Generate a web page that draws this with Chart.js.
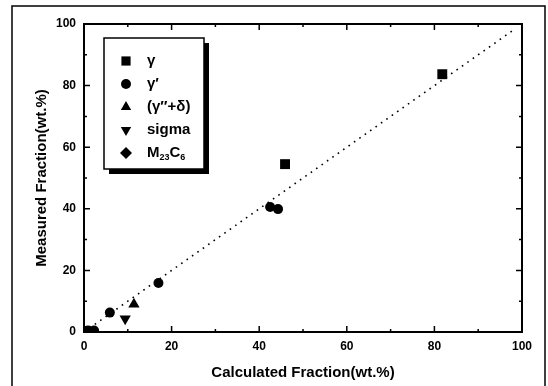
<!DOCTYPE html>
<html>
<head>
<meta charset="utf-8">
<script src="https://cdn.jsdelivr.net/npm/chart.js@4"></script>
<style>
  html, body { margin: 0; padding: 0; background: #fff; }
  #wrap { position: relative; width: 548px; height: 386px; }
</style>
</head>
<body>
<div id="wrap"><canvas id="graf" width="548" height="386"></canvas></div>
<script>
// datos (wt.%)
const gammaPts      = [[81.8, 83.7], [45.9, 54.5], [0.5, 0.3]];
const gammaPrimePts = [[42.5, 40.6], [44.3, 39.9], [17.0, 15.9], [5.9, 6.3], [0.9, 0.5], [2.3, 0.5]];
const gammaDeltaPts = [[11.4, 9.0]];
const sigmaPts      = [[9.4, 4.3]];
const carbidePts    = [[1.5, 0.3]];
const diagonal      = [[0, 0], [98, 98]];
const xTicks = [0, 20, 40, 60, 80, 100];
const yTicks = [0, 20, 40, 60, 80, 100];

const legendItems = [
  { label: "γ", style: "rect", rot: 0 },
  { label: "γ′", style: "circle", rot: 0 },
  { label: "(γ″+δ)", style: "triangle", rot: 0 },
  { label: "sigma", style: "triangle", rot: 180 },
  { label: "M23C6", style: "rectRot", rot: 0 }
];

const toXY = arr => arr.map(p => ({ x: p[0], y: p[1] }));

function serie(label, pts, style, radius, rot) {
  return {
    label: label,
    data: toXY(pts),
    showLine: false,
    pointStyle: style,
    pointRadius: radius,
    pointRotation: rot || 0,
    backgroundColor: "#000",
    borderColor: "#000",
    borderWidth: 0
  };
}

// marco, ticks hacia adentro y leyenda dentro del area
const marcoPlugin = {
  id: "marco",
  afterDraw(chart) {
    const ctx = chart.ctx;
    const a = chart.chartArea;
    const sx = chart.scales.x, sy = chart.scales.y;
    ctx.save();
    ctx.strokeStyle = "#000";
    ctx.lineWidth = 2;
    ctx.strokeRect(a.left, a.top, a.right - a.left, a.bottom - a.top);

    ctx.lineWidth = 1.5;
    ctx.beginPath();
    for (let v = 0; v <= 100; v += 10) {
      const len = v % 20 === 0 ? 6 : 3;
      const px = sx.getPixelForValue(v);
      const py = sy.getPixelForValue(v);
      ctx.moveTo(px, a.bottom); ctx.lineTo(px, a.bottom - len);
      ctx.moveTo(px, a.top); ctx.lineTo(px, a.top + len);
      ctx.moveTo(a.left, py); ctx.lineTo(a.left + len, py);
      ctx.moveTo(a.right, py); ctx.lineTo(a.right - len, py);
    }
    ctx.stroke();

    // leyenda
    const bx = 104, by = 38, bw = 100, bh = 131;
    ctx.fillStyle = "#000";
    ctx.fillRect(bx + 5, by + 5, bw, bh);
    ctx.fillStyle = "#fff";
    ctx.fillRect(bx, by, bw, bh);
    ctx.lineWidth = 1.5;
    ctx.strokeRect(bx, by, bw, bh);

    const rowY = [61, 84, 107, 130, 153];
    const big = "bold 15px 'Liberation Sans', Arial, sans-serif";
    const small = "bold 9px 'Liberation Sans', Arial, sans-serif";
    legendItems.forEach((it, i) => {
      const y = rowY[i];
      ctx.fillStyle = "#000";
      const r = it.style === "rect" ? 6.5 : (it.style === "circle" ? 5 : 6);
      Chart.helpers.drawPoint(ctx, { pointStyle: it.style, rotation: it.rot, radius: r, borderWidth: 0 }, 126, y);
      ctx.fillStyle = "#000";
      ctx.textBaseline = "middle";
      ctx.textAlign = "left";
      if (it.label === "M23C6") {
        ctx.font = big;
        ctx.fillText("M", 147, y);
        let x = 147 + ctx.measureText("M").width;
        ctx.font = small;
        ctx.fillText("23", x, y + 5);
        x += ctx.measureText("23").width;
        ctx.font = big;
        ctx.fillText("C", x, y);
        x += ctx.measureText("C").width;
        ctx.font = small;
        ctx.fillText("6", x, y + 5);
      } else {
        ctx.font = big;
        ctx.fillText(it.label, 147, y);
      }
    });
    ctx.restore();
  }
};

// marco exterior de la figura escaneada
const bordePlugin = {
  id: "borde",
  beforeDraw(chart) {
    const ctx = chart.ctx;
    ctx.save();
    ctx.fillStyle = "#fff";
    ctx.fillRect(0, 0, chart.width, chart.height);
    ctx.strokeStyle = "#000";
    ctx.lineWidth = 1.5;
    ctx.beginPath();
    ctx.moveTo(12, 386); ctx.lineTo(12, 6); ctx.lineTo(545, 6); ctx.lineTo(545, 386);
    ctx.stroke();
    ctx.restore();
  }
};

const fuenteTick = { family: "'Liberation Sans', Arial, sans-serif", size: 12, weight: "bold" };
const fuenteTitulo = { family: "'Liberation Sans', Arial, sans-serif", size: 15, weight: "bold" };

new Chart(document.getElementById("graf").getContext("2d"), {
  type: "scatter",
  data: {
    datasets: [
      {
        label: "diag",
        data: toXY(diagonal),
        showLine: true,
        borderColor: "#000",
        borderWidth: 1.6,
        borderDash: [1.6, 5],
        pointRadius: 0
      },
      serie("γ", gammaPts, "rect", 7),
      serie("γ′", gammaPrimePts, "circle", 5),
      serie("(γ″+δ)", gammaDeltaPts, "triangle", 6.5),
      serie("sigma", sigmaPts, "triangle", 6.5, 180),
      serie("M23C6", carbidePts, "rectRot", 5)
    ]
  },
  options: {
    responsive: false,
    animation: false,
    layout: { padding: { left: 0, top: 24, right: 26, bottom: 0 } },
    plugins: { legend: { display: false }, tooltip: { enabled: false } },
    scales: {
      x: {
        type: "linear",
        min: 0, max: 100,
        afterFit: s => { s.height = 54; },
        afterBuildTicks: s => { s.ticks = xTicks.map(v => ({ value: v })); },
        grid: { display: false, drawTicks: false },
        border: { display: false },
        ticks: { color: "#000", font: fuenteTick, padding: 7, maxRotation: 0 },
        title: { display: true, text: "Calculated Fraction(wt.%)", color: "#000", font: fuenteTitulo, padding: { top: 0, bottom: 4 } }
      },
      y: {
        type: "linear",
        min: 0, max: 100,
        afterFit: s => { s.width = 84; },
        afterBuildTicks: s => { s.ticks = yTicks.map(v => ({ value: v })); },
        grid: { display: false, drawTicks: false },
        border: { display: false },
        ticks: { color: "#000", font: fuenteTick, padding: 8 },
        title: { display: true, text: "Measured Fraction(wt.%)", color: "#000", font: fuenteTitulo, padding: { top: 33, bottom: 0 } }
      }
    }
  },
  plugins: [bordePlugin, marcoPlugin]
});
</script>
</body>
</html>
